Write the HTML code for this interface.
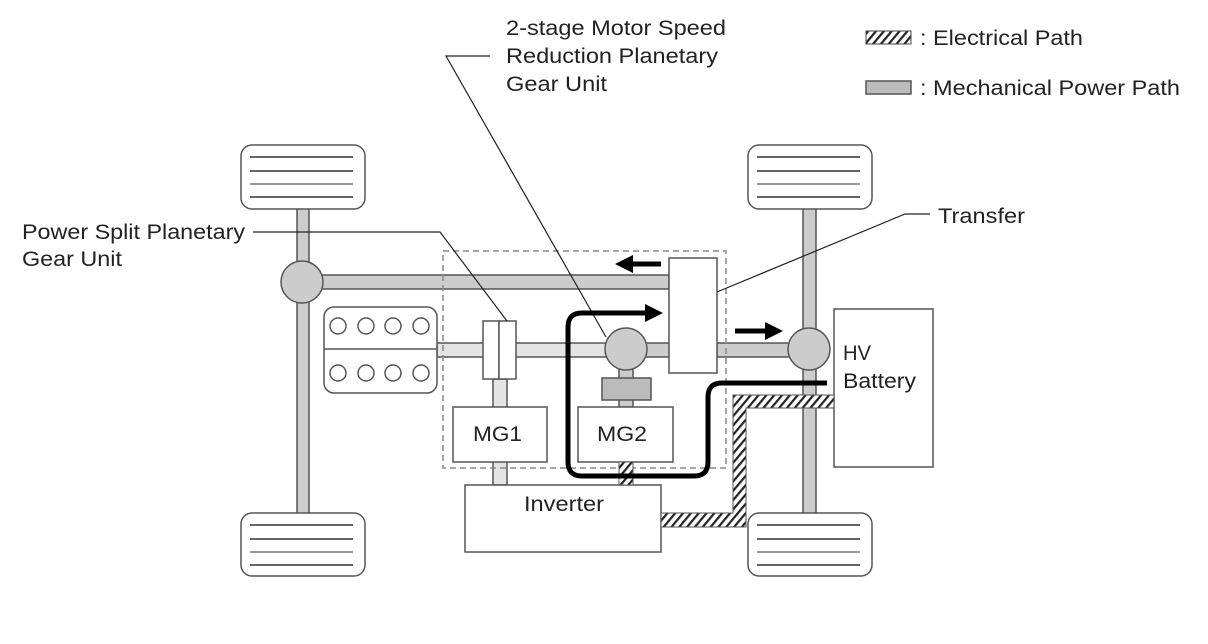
<!DOCTYPE html>
<html><head><meta charset="utf-8"><style>
html,body{margin:0;padding:0;background:#fff;}
svg{display:block;}
text{font-family:"Liberation Sans",Arial,sans-serif;font-size:21px;fill:#222;}
</style></head><body>
<svg width="1208" height="644" viewBox="0 0 1208 644" xmlns="http://www.w3.org/2000/svg">
<defs>
<pattern id="h" width="6" height="6" patternUnits="userSpaceOnUse" patternTransform="rotate(40)">
<rect width="6" height="6" fill="#fff"/><rect width="2.2" height="6" fill="#222"/>
</pattern>
</defs>
<g stroke="#555" stroke-width="1.5">
<rect x="297" y="205" width="12" height="310" fill="#ccc"/>
<rect x="803" y="205" width="13" height="310" fill="#ccc"/>
<rect x="302" y="275" width="367" height="14" fill="#ccc"/>
<rect x="437" y="343" width="170" height="14" fill="#e4e4e4"/>
<rect x="640" y="343" width="30" height="14" fill="#ccc"/>
<rect x="717" y="343" width="90" height="14" fill="#ccc"/>
<rect x="493" y="379" width="14" height="106" fill="#e4e4e4"/>
<rect x="619" y="365" width="14" height="42" fill="#ccc"/>
<g fill="#fff">
<rect x="241" y="145" width="124" height="64" rx="11"/>
<rect x="241" y="513" width="124" height="63" rx="11"/>
<rect x="748" y="145" width="124" height="64" rx="11"/>
<rect x="748" y="513" width="124" height="63" rx="11"/>
</g>
</g>
<g stroke="#333" stroke-width="1.5">
<path d="M250 157H353M250 171H353M250 197H353M250 525H353M250 539H353M250 565H353M757 157H860M757 171H860M757 197H860M757 525H860M757 539H860M757 565H860"/>
</g>
<g stroke="#999" stroke-width="2"><path d="M250 184H353M250 552H353M757 184H860M757 552H860"/></g>
<rect x="443" y="251" width="283" height="217" fill="none" stroke="#888" stroke-width="1.5" stroke-dasharray="6,4"/>
<g stroke="#555" stroke-width="1.5">
<circle cx="302" cy="282" r="21" fill="#ccc"/>
<circle cx="809" cy="349" r="21" fill="#ccc"/>
<circle cx="626" cy="349" r="21" fill="#ccc"/>
<rect x="324" y="307" width="113" height="86" rx="10" fill="#fff"/>
<line x1="324" y1="349" x2="437" y2="349"/>
<g fill="#fff">
<circle cx="338" cy="326" r="8"/><circle cx="366" cy="326" r="8"/><circle cx="393" cy="326" r="8"/><circle cx="421" cy="326" r="8"/>
<circle cx="338" cy="373" r="8"/><circle cx="366" cy="373" r="8"/><circle cx="393" cy="373" r="8"/><circle cx="421" cy="373" r="8"/>
<rect x="483" y="321" width="16" height="58"/><rect x="499" y="321" width="17" height="58"/>
<rect x="453" y="407" width="94" height="55"/>
<rect x="578" y="407" width="95" height="55"/>
<rect x="669" y="258" width="48" height="115"/>
<rect x="465" y="485" width="196" height="67"/>
<rect x="834" y="309" width="99" height="158"/>
</g>
<rect x="602" y="378" width="49" height="22" fill="#bbb"/>
</g>
<rect x="619" y="462" width="14" height="23" fill="url(#h)" stroke="#555" stroke-width="1"/>
<path d="M661 513H733V395H834V408H746V527H661Z" fill="url(#h)" stroke="#555" stroke-width="1"/>
<g stroke="#222" stroke-width="1.2" fill="none">
<path d="M253 232H440L507 321"/>
<path d="M490 56H446L606 337"/>
<path d="M717 292L905 214H930"/>
</g>
<g stroke="#000" stroke-width="5" fill="none">
<path d="M648 313H582Q568 313 568 327V462Q568 476 582 476H694Q708 476 708 462V397Q708 383 722 383H827"/>
<path d="M661 264H632"/>
<path d="M735 331H766"/>
</g>
<g fill="#000">
<polygon points="663,313 645,304 645,322"/>
<polygon points="615,264 633,255 633,273"/>
<polygon points="783,331 765,322 765,340"/>
</g>
<rect x="866" y="31" width="45" height="13" fill="url(#h)" stroke="#444" stroke-width="1"/>
<rect x="866" y="81" width="45" height="13" fill="#bbb" stroke="#555" stroke-width="1.5"/>
<text x="920" y="45" textLength="163" lengthAdjust="spacingAndGlyphs">: Electrical Path</text>
<text x="920" y="95" textLength="260" lengthAdjust="spacingAndGlyphs">: Mechanical Power Path</text>
<text x="506" y="35" textLength="220" lengthAdjust="spacingAndGlyphs">2-stage Motor Speed</text>
<text x="506" y="63" textLength="212" lengthAdjust="spacingAndGlyphs">Reduction Planetary</text>
<text x="506" y="91" textLength="101" lengthAdjust="spacingAndGlyphs">Gear Unit</text>
<text x="22" y="239" textLength="223" lengthAdjust="spacingAndGlyphs">Power Split Planetary</text>
<text x="22" y="266" textLength="100" lengthAdjust="spacingAndGlyphs">Gear Unit</text>
<text x="938" y="223" textLength="87" lengthAdjust="spacingAndGlyphs">Transfer</text>
<text x="473" y="441" textLength="49" lengthAdjust="spacingAndGlyphs">MG1</text>
<text x="597" y="441" textLength="50" lengthAdjust="spacingAndGlyphs">MG2</text>
<text x="524" y="511" textLength="80" lengthAdjust="spacingAndGlyphs">Inverter</text>
<text x="843" y="360" textLength="28" lengthAdjust="spacingAndGlyphs">HV</text>
<text x="843" y="388" textLength="73" lengthAdjust="spacingAndGlyphs">Battery</text>
</svg>
</body></html>
